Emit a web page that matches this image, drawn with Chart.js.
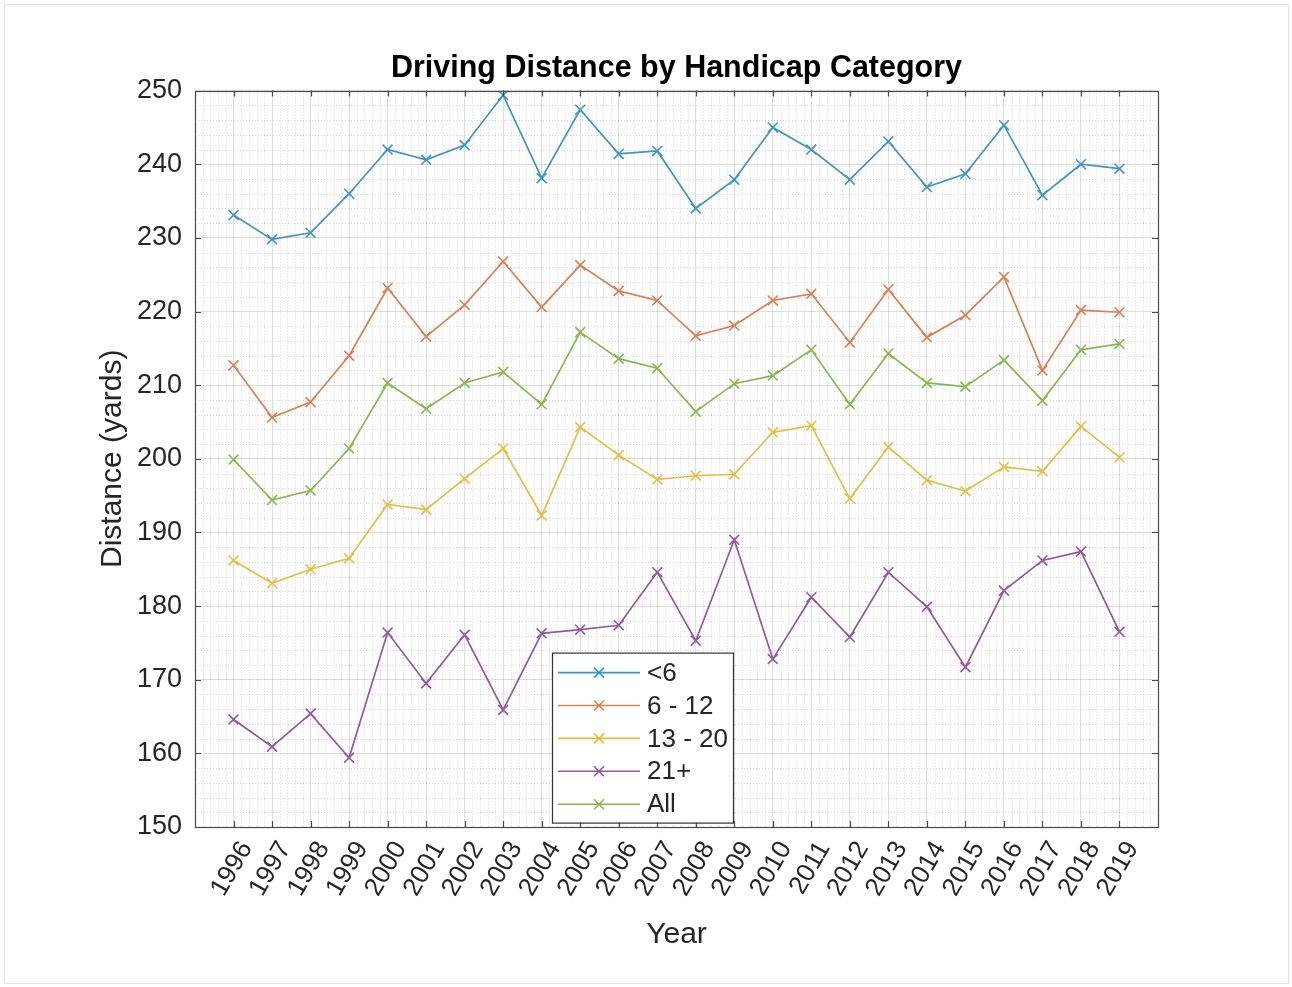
<!DOCTYPE html>
<html>
<head>
<meta charset="utf-8">
<script src="https://cdn.jsdelivr.net/npm/chart.js@4/dist/chart.umd.min.js"></script>
<style>
  html, body { margin: 0; padding: 0; background: #ffffff; }
  #chart { display: block; }
</style>
</head>
<body>
<canvas id="chart" width="1292" height="987"></canvas>
<script>
// Average driving distance (yards) per handicap group, 1996-2019
const years = [1996, 1997, 1998, 1999, 2000, 2001, 2002, 2003, 2004, 2005, 2006, 2007,
               2008, 2009, 2010, 2011, 2012, 2013, 2014, 2015, 2016, 2017, 2018, 2019];

const under6 = [233.1, 229.8, 230.7, 236.0, 242.0, 240.6, 242.6, 249.4, 238.1, 247.4, 241.4, 241.8,
                234.0, 237.9, 245.0, 242.0, 237.9, 243.1, 236.9, 238.7, 245.3, 235.8, 240.0, 239.4];
const hcp6to12 = [212.7, 205.6, 207.7, 214.0, 223.2, 216.6, 220.9, 226.8, 220.6, 226.3, 222.8, 221.5,
                  216.7, 218.1, 221.5, 222.4, 215.8, 223.0, 216.5, 219.5, 224.7, 212.0, 220.2, 219.9];
const hcp13to20 = [186.2, 183.1, 185.0, 186.5, 193.8, 193.1, 197.3, 201.4, 192.3, 204.3, 200.5, 197.2,
                   197.7, 197.9, 203.6, 204.5, 194.6, 201.6, 197.1, 195.6, 198.9, 198.3, 204.4, 200.2];
const hcp21plus = [164.6, 160.9, 165.4, 159.4, 176.4, 169.5, 176.1, 165.9, 176.3, 176.8, 177.4, 184.6,
                   175.3, 189.0, 172.8, 181.2, 175.8, 184.6, 179.9, 171.7, 182.1, 186.2, 187.4, 176.5];
const allPlayers = [199.9, 194.4, 195.7, 201.4, 210.3, 206.8, 210.3, 211.8, 207.4, 217.2, 213.6, 212.3,
                    206.4, 210.2, 211.3, 214.8, 207.4, 214.3, 210.3, 209.8, 213.4, 207.9, 214.8, 215.6];

const seriesLabels = ['<6', '6 - 12', '13 - 20', '21+', 'All'];
const seriesValues = [under6, hcp6to12, hcp13to20, hcp21plus, allPlayers];
const seriesColors = ['#4194c5', '#d97f56', '#e3c043', '#9059a0', '#89b851'];

const yTicks = { min: 150, max: 250, step: 10 };
const xRange = { min: 1995, max: 2020 };

const FONT = '"Liberation Sans", Arial, Helvetica, sans-serif';
const TEXT = '#262626';

const datasets = seriesLabels.map((label, s) => ({
  label: label,
  data: years.map((yr, i) => ({ x: yr, y: seriesValues[s][i] })),
  borderColor: seriesColors[s],
  backgroundColor: seriesColors[s],
  borderWidth: 1.7,
  pointStyle: 'crossRot',
  pointRadius: 7,
  pointBorderWidth: 1.6,
  pointHoverRadius: 7,
  tension: 0,
  fill: false
}));

// White figure background with a faint outer frame
const figureFrame = {
  id: 'figureFrame',
  beforeDraw(chart) {
    const ctx = chart.ctx;
    ctx.save();
    ctx.fillStyle = '#ffffff';
    ctx.fillRect(0, 0, chart.width, chart.height);
    ctx.strokeStyle = '#e4e4e4';
    ctx.lineWidth = 1;
    ctx.strokeRect(4.5, 4.5, chart.width - 8, chart.height - 8);
    ctx.restore();
  }
};

// Dotted minor grid between the major grid lines
const minorGrid = {
  id: 'minorGrid',
  beforeDatasetsDraw(chart) {
    const { ctx, chartArea: a, scales: { x, y } } = chart;
    ctx.save();
    ctx.strokeStyle = 'rgba(0,0,0,0.16)';
    ctx.lineWidth = 1;
    ctx.setLineDash([1, 2]);
    for (let v = xRange.min; v < xRange.max; v += 1) {
      for (let k = 1; k < 5; k++) {
        const px = Math.round(x.getPixelForValue(v + k * 0.2)) + 0.5;
        ctx.beginPath(); ctx.moveTo(px, a.top); ctx.lineTo(px, a.bottom); ctx.stroke();
      }
    }
    for (let v = yTicks.min; v < yTicks.max; v += yTicks.step) {
      for (let k = 1; k < 5; k++) {
        const py = Math.round(y.getPixelForValue(v + k * 2)) + 0.5;
        ctx.beginPath(); ctx.moveTo(a.left, py); ctx.lineTo(a.right, py); ctx.stroke();
      }
    }
    ctx.restore();
  }
};

// Axes box with inward tick marks on all four sides
const axesBox = {
  id: 'axesBox',
  afterDatasetsDraw(chart) {
    const { ctx, chartArea: a, scales: { x, y } } = chart;
    const len = 6;
    ctx.save();
    ctx.strokeStyle = '#4a4a4a';
    ctx.lineWidth = 1.2;
    ctx.strokeRect(Math.round(a.left) + 0.5, Math.round(a.top) + 0.5,
                   Math.round(a.right - a.left), Math.round(a.bottom - a.top));
    ctx.beginPath();
    years.forEach(yr => {
      const px = Math.round(x.getPixelForValue(yr)) + 0.5;
      ctx.moveTo(px, a.bottom); ctx.lineTo(px, a.bottom - len);
      ctx.moveTo(px, a.top); ctx.lineTo(px, a.top + len);
    });
    for (let v = yTicks.min; v <= yTicks.max; v += yTicks.step) {
      const py = Math.round(y.getPixelForValue(v)) + 0.5;
      ctx.moveTo(a.left, py); ctx.lineTo(a.left + len, py);
      ctx.moveTo(a.right, py); ctx.lineTo(a.right - len, py);
    }
    ctx.stroke();
    ctx.restore();
  }
};

// Boxed legend inside the axes, lower middle
const insideLegend = {
  id: 'insideLegend',
  afterDraw(chart) {
    const { ctx, chartArea: a } = chart;
    const bx = a.left + 357, by = a.top + 562, bw = 181, bh = 170;
    const rowH = 32.9, firstRow = by + 20;
    ctx.save();
    ctx.fillStyle = '#ffffff';
    ctx.fillRect(bx, by, bw, bh);
    ctx.strokeStyle = '#333333';
    ctx.lineWidth = 1.2;
    ctx.strokeRect(bx + 0.5, by + 0.5, bw, bh);
    ctx.font = '26px ' + FONT;
    ctx.textBaseline = 'middle';
    ctx.textAlign = 'left';
    chart.data.datasets.forEach((ds, i) => {
      const cy = firstRow + i * rowH;
      ctx.strokeStyle = ds.borderColor;
      ctx.lineWidth = 1.6;
      ctx.beginPath();
      ctx.moveTo(bx + 6, cy); ctx.lineTo(bx + 88, cy);
      const mx = bx + 47, r = 5;
      ctx.moveTo(mx - r, cy - r); ctx.lineTo(mx + r, cy + r);
      ctx.moveTo(mx - r, cy + r); ctx.lineTo(mx + r, cy - r);
      ctx.stroke();
      ctx.fillStyle = TEXT;
      ctx.fillText(ds.label, bx + 95, cy + 1);
    });
    ctx.restore();
  }
};

new Chart(document.getElementById('chart'), {
  type: 'line',
  data: { datasets: datasets },
  plugins: [figureFrame, minorGrid, axesBox, insideLegend],
  options: {
    responsive: false,
    animation: false,
    devicePixelRatio: 1,
    layout: { padding: { left: 0, right: 134, top: 0, bottom: 0 } },
    plugins: {
      legend: { display: false },
      tooltip: { enabled: false },
      title: {
        display: true,
        fullSize: false,
        text: 'Driving Distance by Handicap Category',
        color: '#000000',
        font: { family: FONT, size: 30.5, weight: 'bold' },
        padding: { top: 50, bottom: 4 }
      }
    },
    scales: {
      x: {
        type: 'linear',
        min: xRange.min,
        max: xRange.max,
        afterFit(scale) { scale.height = 160; },
        border: { display: false },
        grid: { color: 'rgba(0,0,0,0.13)', lineWidth: 1, drawTicks: false },
        ticks: {
          stepSize: 1,
          autoSkip: false,
          minRotation: 60,
          maxRotation: 60,
          padding: 9,
          labelOffset: 13,
          color: TEXT,
          font: { family: FONT, size: 26 },
          callback: v => (v >= years[0] && v <= years[years.length - 1]) ? String(v) : ''
        },
        title: {
          display: true,
          text: 'Year',
          color: TEXT,
          font: { family: FONT, size: 30 },
          padding: { top: 0, bottom: 34 }
        }
      },
      y: {
        type: 'linear',
        min: yTicks.min,
        max: yTicks.max,
        afterFit(scale) { scale.width = 195; },
        border: { display: false },
        grid: { color: 'rgba(0,0,0,0.13)', lineWidth: 1, drawTicks: false },
        ticks: {
          stepSize: yTicks.step,
          padding: 13,
          color: TEXT,
          font: { family: FONT, size: 27 }
        },
        title: {
          display: true,
          text: 'Distance (yards)',
          color: TEXT,
          font: { family: FONT, size: 30 },
          padding: { top: 95, bottom: 0 }
        }
      }
    }
  }
});
</script>
</body>
</html>
